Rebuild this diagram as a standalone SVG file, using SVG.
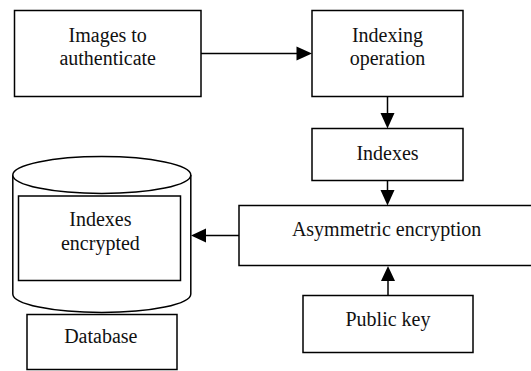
<svg xmlns="http://www.w3.org/2000/svg" width="531" height="371" viewBox="0 0 531 371">
<style>
.box{fill:#fff;stroke:#000;stroke-width:1.5}
.ln{fill:none;stroke:#000;stroke-width:1.5}
.hd{fill:#000;stroke:none}
text{font-family:"Liberation Serif","Times New Roman",serif;font-size:20px;fill:#111;text-anchor:middle}
</style>
<rect width="531" height="371" fill="#fff"/>
<g id="images">
<rect class="box" x="14.5" y="10.5" width="186.5" height="86"/>
<text x="107.7" y="42">Images to</text>
<text x="107.7" y="64.5">authenticate</text>
</g>
<g id="indexing">
<rect class="box" x="312" y="10.5" width="151" height="86"/>
<text x="387.5" y="42">Indexing</text>
<text x="387.5" y="64.5">operation</text>
</g>
<g id="indexes">
<rect class="box" x="312" y="128.5" width="151" height="52"/>
<text x="387.5" y="159.5">Indexes</text>
</g>
<g id="asymmetric">
<rect class="box" x="239" y="205.5" width="296" height="60"/>
<text x="386.6" y="236">Asymmetric encryption</text>
</g>
<g id="publickey">
<rect class="box" x="303" y="295.5" width="170" height="57"/>
<text x="388" y="326">Public key</text>
</g>
<g id="database">
<path class="box" d="M12.8,175 L12.8,294 A89,18.5 0 0 0 190.8,294 L190.8,175"/>
<ellipse class="box" cx="101.8" cy="175" rx="89" ry="18.5"/>
<rect class="box" x="18.5" y="196" width="162" height="84.5"/>
<text x="100.4" y="226">Indexes</text>
<text x="100.4" y="249.5">encrypted</text>
</g>
<g id="database-label">
<rect class="box" x="27" y="314.5" width="150" height="55"/>
<text x="100.8" y="343.3">Database</text>
</g>
<g id="connectors">
<line class="ln" x1="201" y1="53.5" x2="297" y2="53.5"/>
<polygon class="hd" points="296.5,46.5 312,53.5 296.5,60.5"/>
<line class="ln" x1="387.5" y1="96.5" x2="387.5" y2="113.5"/>
<polygon class="hd" points="380.5,113 394.5,113 387.5,128.5"/>
<line class="ln" x1="387.5" y1="180.5" x2="387.5" y2="190.5"/>
<polygon class="hd" points="380.5,190 394.5,190 387.5,205.5"/>
<line class="ln" x1="239" y1="235.5" x2="205.5" y2="235.5"/>
<polygon class="hd" points="206,228.5 206,242.5 191,235.5"/>
<line class="ln" x1="388" y1="295.5" x2="388" y2="280.5"/>
<polygon class="hd" points="381,281 395,281 388,266"/>
</g>
</svg>
